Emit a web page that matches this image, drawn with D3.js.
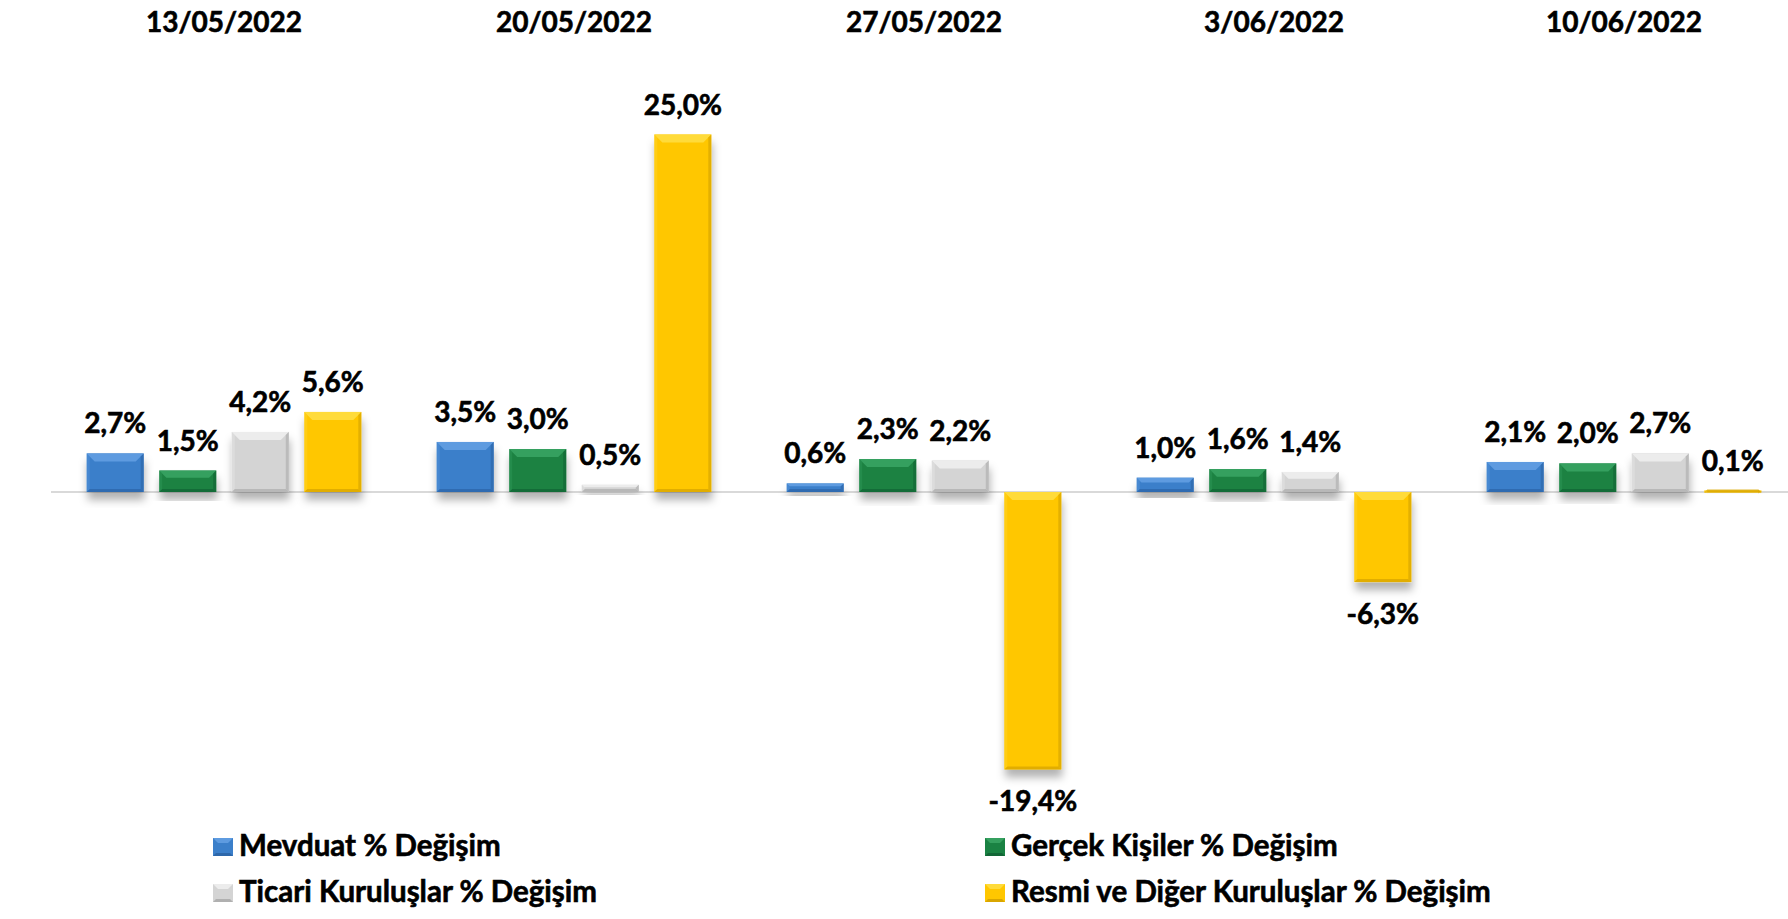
<!DOCTYPE html>
<html>
<head>
<meta charset="utf-8">
<script src="https://cdn.jsdelivr.net/npm/d3@7"></script>
<style>
  body { margin: 0; background: #fff; }
  text { font-family: Lato, "Open Sans", sans-serif; font-weight: bold; fill: #000; stroke: #000; stroke-width: 0.6px; }
</style>
</head>
<body>
<div id="chart"></div>
<script>
// data
const dates = ['13/05/2022', '20/05/2022', '27/05/2022', '3/06/2022', '10/06/2022'];
const mevduat = [2.7, 3.5, 0.6, 1.0, 2.1];
const gercek = [1.5, 3.0, 2.3, 1.6, 2.0];
const ticari = [4.2, 0.5, 2.2, 1.4, 2.7];
const resmi = [5.6, 25.0, -19.4, -6.3, 0.1];
const seriesNames = ['Mevduat % Değişim', 'Gerçek Kişiler % Değişim', 'Ticari Kuruluşlar % Değişim', 'Resmi ve Diğer Kuruluşlar % Değişim'];

const W = 1788, H = 919;
const colors = ['#3b7fca', '#1a8243', '#d4d4d4', '#ffc700'];
const light = ['#5e9be0', '#35a05f', '#ececec', '#ffdb3a'];
const dark = ['#2d67aa', '#126636', '#b0b0b0', '#d9a600'];

const allSeries = [mevduat, gercek, ticari, resmi];
const table = dates.map((d, i) => ({ date: d, vals: allSeries.map(s => s[i]) }));

const svg = d3.select('#chart').append('svg').attr('width', W).attr('height', H);

const defs = svg.append('defs');
const f = defs.append('filter').attr('id', 'shadow').attr('x', '-20%').attr('y', '-20%').attr('width', '140%').attr('height', '160%');
f.append('feDropShadow').attr('dx', 1).attr('dy', 8).attr('stdDeviation', 4).attr('flood-color', '#000').attr('flood-opacity', 0.3);

// scales
let x0 = d3.scaleBand().domain(dates).range([49, 1799]).paddingInner(0.171).paddingOuter(0.0855);
let x1 = d3.scaleBand().domain(d3.range(4)).range([0, x0.bandwidth()]).paddingInner(0.214).paddingOuter(0.107);
let y = d3.scaleLinear().domain([0, 25]).range([492, 134.5]);
const fmt = v => v.toFixed(1).replace('.', ',') + '%';

// baseline
svg.append('line')
    .attr('x1', 51).attr('x2', W)
    .attr('y1', y(0)).attr('y2', y(0))
    .attr('stroke', '#d9d9d9').attr('stroke-width', 2);

// titles
svg.append('g').selectAll('text').data(dates).join('text')
    .attr('x', d => x0(d) + x0.bandwidth() / 2)
    .attr('y', 32)
    .attr('text-anchor', 'middle')
    .style('font-size', '28px')
    .text(d => d);

// beveled bar
function bar(g, x, yTop, w, h, k) {
    const b = Math.min(8, h / 3);
    const cell = g.append('g');
    cell.append('rect').attr('x', x).attr('y', yTop).attr('width', w).attr('height', h)
        .attr('fill', colors[k]).attr('filter', 'url(#shadow)');
    // top bevel
    cell.append('path').attr('fill', light[k])
        .attr('d', `M${x},${yTop}L${x + w},${yTop}L${x + w - b},${yTop + b}L${x + b},${yTop + b}Z`);
    // right bevel
    cell.append('path').attr('fill', dark[k]).attr('opacity', 0.7)
        .attr('d', `M${x + w},${yTop}L${x + w},${yTop + h}L${x + w - 3},${yTop + h - 3}L${x + w - 3},${yTop + 3}Z`);
    // bottom bevel
    cell.append('path').attr('fill', dark[k]).attr('opacity', 0.8)
        .attr('d', `M${x},${yTop + h}L${x + w},${yTop + h}L${x + w - 3},${yTop + h - 3}L${x + 3},${yTop + h - 3}Z`);
    // left bevel
    cell.append('path').attr('fill', light[k]).attr('opacity', 0.35)
        .attr('d', `M${x},${yTop}L${x + 3},${yTop + 3}L${x + 3},${yTop + h - 3}L${x},${yTop + h}Z`);
}

const groups = svg.append('g').selectAll('g').data(table).join('g')
    .attr('transform', d => `translate(${x0(d.date)},0)`);

groups.each(function(d) {
    const g = d3.select(this);
    d.vals.forEach((v, k) => {
        const yTop = Math.min(y(v), y(0));
        const h = Math.max(Math.abs(y(v) - y(0)), 2);
        bar(g, x1(k), yTop, x1.bandwidth(), h, k);
        g.append('text')
            .attr('x', x1(k) + x1.bandwidth() / 2)
            .attr('y', v >= 0 ? y(v) - 20 : y(v) + 42)
            .attr('text-anchor', 'middle')
            .style('font-size', '28px')
            .text(fmt(v));
    });
});

// legend
const legendPos = [[213, 856], [985, 856], [213, 902], [985, 902]];
const legend = svg.append('g').selectAll('g').data(seriesNames).join('g')
    .attr('transform', (d, i) => `translate(${legendPos[i][0]},${legendPos[i][1]})`);
legend.each(function(d, k) {
    const g = d3.select(this);
    g.append('rect').attr('x', 0).attr('y', -18).attr('width', 20).attr('height', 18).attr('fill', colors[k]);
    g.append('path').attr('fill', light[k]).attr('d', 'M0,-18L20,-18L15,-13L5,-13Z');
    g.append('path').attr('fill', dark[k]).attr('d', 'M0,0L20,0L17,-3L3,-3Z');
});
legend.append('text')
    .attr('x', 26)
    .attr('y', 0)
    .style('font-size', '29.5px')
    .text(d => d);
</script>
</body>
</html>
